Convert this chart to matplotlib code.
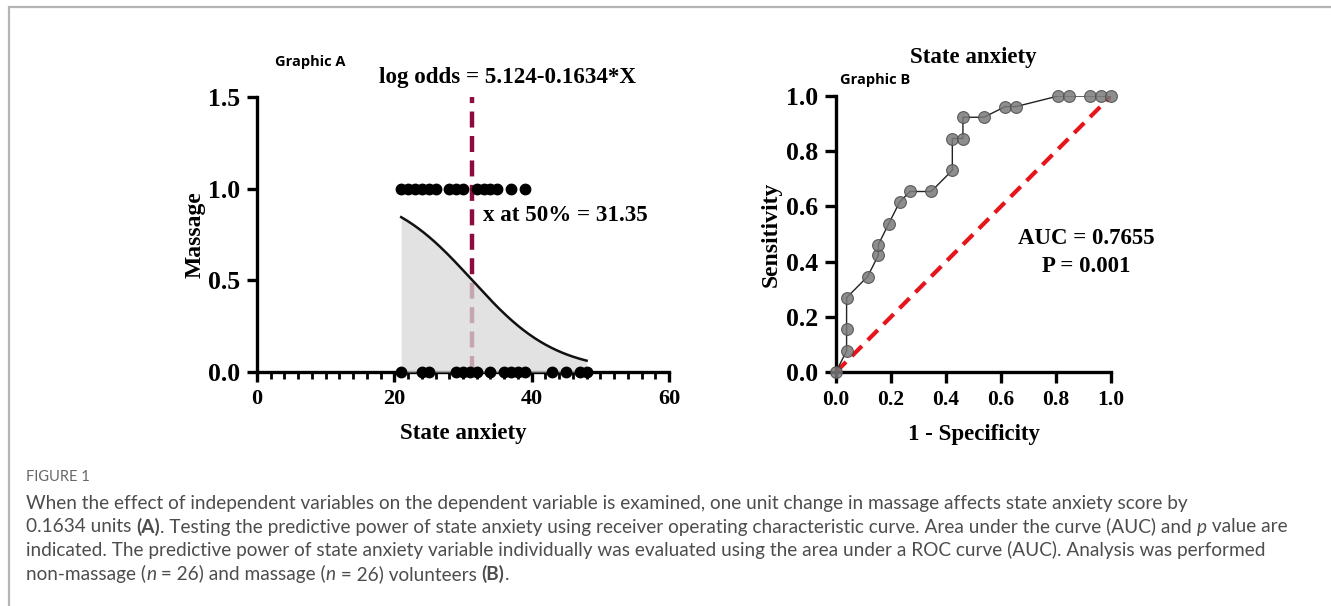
import numpy as np
import matplotlib
matplotlib.use("Agg")
import matplotlib.pyplot as plt
from matplotlib.patches import Rectangle
from matplotlib.ticker import MultipleLocator

# Graphic A: logistic regression, massage (1) vs non-massage (0)
massage_x = [21, 22, 23, 24, 25, 26, 28, 29, 30, 32, 33, 34, 35, 37, 39]
no_massage_x = [21, 24, 25, 29, 30, 31, 32, 34, 36, 37, 38, 39, 43, 45, 47, 48]
b0, b1 = 5.124, -0.1634
x50 = 31.35
curve_range = (21, 48)

# Graphic B: ROC curve
fpr = [0, 0.0385, 0.0385, 0.0385, 0.115, 0.154, 0.154, 0.192, 0.231, 0.269, 0.346,
       0.423, 0.423, 0.4615, 0.4615, 0.538, 0.615, 0.654, 0.808, 0.846, 0.923, 0.962, 1.0]
tpr = [0, 0.0769, 0.154, 0.269, 0.346, 0.423, 0.4615, 0.538, 0.615, 0.654, 0.654,
       0.731, 0.846, 0.846, 0.923, 0.923, 0.9615, 0.9615, 1.0, 1.0, 1.0, 1.0, 1.0]

caption_title = "FIGURE 1"
caption_lines = [
    [("When the effect of independent variables on the dependent variable is examined, one unit change in massage affects state anxiety score by", "normal", "normal")],
    [("0.1634 units ", "normal", "normal"), ("(A)", "bold", "normal"),
     (". Testing the predictive power of state anxiety using receiver operating characteristic curve. Area under the curve (AUC) and ", "normal", "normal"),
     ("p", "normal", "italic"), (" value are", "normal", "normal")],
    [("indicated. The predictive power of state anxiety variable individually was evaluated using the area under a ROC curve (AUC). Analysis was performed", "normal", "normal")],
    [("non-massage (", "normal", "normal"), ("n", "normal", "italic"), (" = 26) and massage (", "normal", "normal"),
     ("n", "normal", "italic"), (" = 26) volunteers ", "normal", "normal"), ("(B)", "bold", "normal"), (".", "normal", "normal")],
]

W, H = 1331, 606
fig = plt.figure(figsize=(W / 100, H / 100), dpi=100)
serif = "Liberation Serif"

# frame around the figure
fig.patches.append(Rectangle((9 / W, -0.1), 1.2, 1 - 7 / H + 0.1, transform=fig.transFigure,
                             fill=False, edgecolor="#b5b5b5", linewidth=1.6))


def style_axis(ax, xsize, ysize):
    for s in ["top", "right"]:
        ax.spines[s].set_visible(False)
    for s in ["left", "bottom"]:
        ax.spines[s].set_linewidth(2.4)
    ax.tick_params(which="major", direction="out", width=2.4, length=7, pad=5)
    ax.tick_params(axis="x", labelsize=xsize)
    ax.tick_params(axis="y", labelsize=ysize)
    for lab in ax.get_xticklabels() + ax.get_yticklabels():
        lab.set_fontfamily(serif)
        lab.set_fontweight("bold")


# ---- Graphic A ----
axA = fig.add_axes([257 / W, 1 - 372 / H, 412 / W, 275 / H])
axA.set_xlim(0, 60)
axA.set_ylim(0, 1.5)
axA.set_xticks([0, 20, 40, 60])
axA.set_yticks([0, 0.5, 1.0, 1.5])
axA.set_yticklabels(["0.0", "0.5", "1.0", "1.5"])
axA.xaxis.set_minor_locator(MultipleLocator(2))
axA.tick_params(axis="x", which="minor", direction="out", width=2.0, length=5)
axA.tick_params(axis="x", which="major", length=10)
style_axis(axA, 16, 18.5)

axA.plot([x50, x50], [0, 1.5], color="#8c0c40", linewidth=3.2, dashes=(3.6, 1.9), zorder=2)
xs = np.linspace(curve_range[0], curve_range[1], 200)
ps = 1 / (1 + np.exp(-(b0 + b1 * xs)))
axA.fill_between(xs, 0, ps, color="#d9d9d9", alpha=0.75, linewidth=0, zorder=3)
axA.plot(xs, ps, color="#111111", linewidth=1.8, zorder=4)
axA.plot(massage_x, [1] * len(massage_x), "o", color="black", markersize=7.5, clip_on=False, zorder=5)
axA.plot(no_massage_x, [0] * len(no_massage_x), "o", color="black", markersize=7.5, clip_on=False, zorder=5)

axA.text(36.5, 1.607, "log odds = 5.124-0.1634*X", ha="center", va="center",
         fontfamily=serif, fontweight="bold", fontsize=16.6)
axA.text(32.9, 0.852, "x at 50% = 31.35", ha="left", va="center",
         fontfamily=serif, fontweight="bold", fontsize=16.6)
axA.text(7.7, 1.69, "Graphic A", ha="center", va="center", fontfamily="Open Sans",
         fontweight="bold", fontsize=10.5)
axA.set_xlabel("State anxiety", fontfamily=serif, fontweight="bold", fontsize=16.5, labelpad=10)
axA.set_ylabel("Massage", fontfamily=serif, fontweight="bold", fontsize=17, labelpad=2)

# ---- Graphic B ----
axB = fig.add_axes([836 / W, 1 - 372 / H, 275 / W, 276 / H])
axB.set_xlim(0, 1.0)
axB.set_ylim(0, 1.0)
ticks = [0, 0.2, 0.4, 0.6, 0.8, 1.0]
axB.set_xticks(ticks)
axB.set_yticks(ticks)
axB.set_xticklabels([f"{t:.1f}" for t in ticks])
axB.set_yticklabels([f"{t:.1f}" for t in ticks])
style_axis(axB, 15.5, 18.5)
axB.tick_params(which="major", length=8)

axB.plot([0, 1], [0, 1], color="#e8141c", linewidth=3.0, dashes=(3.4, 2.0), zorder=2)
axB.plot(fpr, tpr, color="#222222", linewidth=1.0, zorder=3)
axB.plot(fpr, tpr, "o", markersize=8.5, markerfacecolor="#7a7a7a", markeredgecolor="#4a4a4a",
         markeredgewidth=0.8, alpha=0.85, linestyle="none", clip_on=False, zorder=4)

axB.set_title("State anxiety", fontfamily=serif, fontweight="bold", fontsize=16.5, pad=24)
axB.text(0.142, 1.058, "Graphic B", ha="center", va="center", fontfamily="Open Sans",
         fontweight="bold", fontsize=10.5)
axB.text(0.909, 0.482, "AUC = 0.7655", ha="center", va="center", fontfamily=serif,
         fontweight="bold", fontsize=16.5)
axB.text(0.909, 0.384, "P = 0.001", ha="center", va="center", fontfamily=serif,
         fontweight="bold", fontsize=16.5)
axB.set_xlabel("1 - Specificity", fontfamily=serif, fontweight="bold", fontsize=16.5, labelpad=10)
axB.set_ylabel("Sensitivity", fontfamily=serif, fontweight="bold", fontsize=17, labelpad=3)

# ---- caption ----
cap_font = "Lato"
cap_color = "#4d4d4d"
fig.text(26 / W, 1 - 477 / H, caption_title, fontfamily=cap_font, fontsize=10.5,
         color="#666666", va="center", ha="left")

renderer = fig.canvas.get_renderer()
line_y = [503, 527, 550, 574]
for pieces, y in zip(caption_lines, line_y):
    x = 26
    for txt, weight, style in pieces:
        t = fig.text(x / W, 1 - y / H, txt, fontfamily=cap_font, fontsize=13.7,
                     fontweight=weight, fontstyle=style, color=cap_color, va="center", ha="left")
        bb = t.get_window_extent(renderer)
        x += bb.width

fig.savefig("out.png", dpi=100)
